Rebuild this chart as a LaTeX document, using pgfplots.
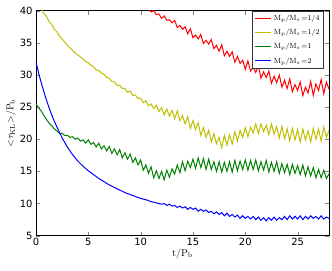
\documentclass[border=0pt]{standalone}
\usepackage{fontspec}
\setsansfont{DejaVu Sans}
\usepackage{pgfplots}
\pgfplotsset{compat=1.18}
\definecolor{mred}{rgb}{1,0,0}
\definecolor{myel}{rgb}{0.75,0.75,0}
\definecolor{mgreen}{rgb}{0,0.5,0}
\definecolor{mblue}{rgb}{0,0,1}
\begin{document}
\begin{tikzpicture}[x=1bp,y=1bp]
\begin{axis}[name=ax,
  scale only axis, width=293bp, height=225bp,
  xmin=0, xmax=28, ymin=5, ymax=40,
  xtick={0,5,10,15,20,25}, ytick={5,10,15,20,25,30,35,40},
  tick align=inside, tick pos=both, major tick length=4bp,
  minor tick num=0,
  /pgf/number format/assume math mode=true,
  tick label style={font=\sffamily\fontsize{10}{11}\selectfont},
  xticklabel style={yshift=1bp},
  xlabel={$\mathrm{t/P_b}$}, ylabel={$\mathrm{{<}\tau_{KL}{>}/P_b}$},
  label style={font=\fontsize{10}{11}\selectfont},
  xlabel style={yshift=4bp}, ylabel style={yshift=-3bp},
  axis line style={line width=0.9pt},
  every axis plot/.append style={line width=1pt},
  legend style={at={(1,1)}, anchor=north east, xshift=-5bp, yshift=0bp,
    font=\fontsize{7.5}{8.5}\selectfont, draw=black!80, inner sep=2.2bp,
    row sep=3.5bp, line width=0.6pt},
  legend cell align=left,
  legend image code/.code={\draw[#1, line width=1.1pt] (0bp,0.3bp) -- (16bp,0.3bp);},
]
\addplot[mred] coordinates {
(10.75,40.3)(11.0,39.8)(11.25,40.0)(11.5,39.4)(11.75,39.5)(12.0,38.8)(12.25,39.2)(12.5,38.5)(12.75,38.6)(13.0,38.1)
(13.25,38.5)(13.5,37.4)(13.75,37.7)(14.0,37.1)(14.25,37.5)(14.5,36.4)(14.75,37.2)(15.0,35.8)(15.25,36.2)(15.5,35.6)
(15.75,36.3)(16.0,34.9)(16.25,35.4)(16.5,34.8)(16.75,35.5)(17.0,34.1)(17.25,34.6)(17.5,33.7)(17.75,34.7)(18.0,33.0)
(18.25,33.7)(18.5,32.9)(18.75,33.6)(19.0,32.0)(19.25,32.9)(19.5,31.8)(19.75,32.3)(20.0,30.9)(20.25,32.2)(20.5,30.6)
(20.75,31.2)(21.0,30.4)(21.25,31.5)(21.5,29.5)(21.75,30.5)(22.0,29.6)(22.25,30.6)(22.5,28.7)(22.75,29.8)(23.0,28.8)
(23.25,30.0)(23.5,28.1)(23.75,29.2)(24.0,27.9)(24.25,29.4)(24.5,27.4)(24.75,28.5)(25.0,27.6)(25.25,28.9)(25.5,26.8)
(25.75,28.1)(26.0,27.2)(26.25,29.0)(26.5,26.8)(26.75,28.6)(27.0,27.6)(27.25,29.3)(27.5,27.1)(27.75,28.9)(28.0,27.8)
};
\addlegendentry{$\mathrm{M_p/M_s\,{=}1/4}$}
\addplot[myel] coordinates {
(0.5,40.4)(0.75,39.6)(1.0,39.1)(1.25,38.3)(1.5,37.9)(1.75,37.1)(2.0,36.7)(2.25,36.0)(2.5,35.6)(2.75,35.1)
(3.0,34.6)(3.25,34.2)(3.5,33.8)(3.75,33.4)(4.0,33.1)(4.25,32.8)(4.5,32.5)(4.75,32.1)(5.0,31.9)(5.25,31.5)
(5.5,31.3)(5.75,30.8)(6.0,30.7)(6.25,30.3)(6.5,30.1)(6.75,29.6)(7.0,29.5)(7.25,29.0)(7.5,28.9)(7.75,28.4)
(8.0,28.4)(8.25,27.9)(8.5,27.9)(8.75,27.3)(9.0,27.5)(9.25,26.8)(9.5,26.9)(9.75,26.3)(10.0,26.4)(10.25,25.7)
(10.5,26.0)(10.75,25.2)(11.0,25.5)(11.25,24.8)(11.5,25.3)(11.75,24.3)(12.0,24.9)(12.25,23.8)(12.5,24.7)(12.75,23.6)
(13.0,24.5)(13.25,23.2)(13.5,24.4)(13.75,22.9)(14.0,23.7)(14.25,22.4)(14.5,23.5)(14.75,21.7)(15.0,22.9)(15.25,21.5)
(15.5,22.6)(15.75,20.6)(16.0,21.8)(16.25,20.3)(16.5,21.4)(16.75,19.6)(17.0,20.9)(17.25,19.3)(17.5,20.3)(17.75,18.7)
(18.0,20.6)(18.25,19.1)(18.5,20.7)(18.75,19.3)(19.0,21.2)(19.25,19.7)(19.5,21.4)(19.75,20.3)(20.0,21.8)(20.25,20.4)
(20.5,21.9)(20.75,21.0)(21.0,22.4)(21.25,20.9)(21.5,22.4)(21.75,21.2)(22.0,22.2)(22.25,20.7)(22.5,22.4)(22.75,20.8)
(23.0,22.0)(23.25,20.2)(23.5,22.0)(23.75,20.1)(24.0,21.6)(24.25,19.8)(24.5,21.7)(24.75,19.9)(25.0,21.5)(25.25,19.6)
(25.5,21.6)(25.75,19.9)(26.0,21.3)(26.25,19.6)(26.5,21.7)(26.75,20.0)(27.0,21.6)(27.25,19.7)(27.5,21.9)(27.75,20.3)
(28.0,21.4)
};
\addlegendentry{$\mathrm{M_p/M_s\,{=}1/2}$}
\addplot[mgreen] coordinates {
(0,25.5)(0.25,24.9)(0.5,24.4)(0.75,23.7)(1.0,23.1)(1.25,22.5)(1.5,22.1)(1.75,21.6)(2.0,21.3)(2.25,20.9)
(2.5,20.9)(2.75,20.6)(3.0,20.6)(3.25,20.3)(3.5,20.4)(3.75,20.0)(4.0,20.2)(4.25,19.7)(4.5,19.9)(4.75,19.4)
(5.0,19.9)(5.25,19.2)(5.5,19.5)(5.75,18.8)(6.0,19.4)(6.25,18.5)(6.5,19.0)(6.75,18.2)(7.0,18.9)(7.25,17.8)
(7.5,18.5)(7.75,17.6)(8.0,18.4)(8.25,17.1)(8.5,17.9)(8.75,16.9)(9.0,17.7)(9.25,16.4)(9.5,17.1)(9.75,16.0)
(10.0,16.8)(10.25,15.2)(10.5,16.0)(10.75,14.7)(11.0,15.7)(11.25,14.0)(11.5,15.1)(11.75,13.9)(12.0,15.0)(12.25,13.7)
(12.5,15.2)(12.75,14.1)(13.0,15.4)(13.25,14.6)(13.5,16.0)(13.75,14.8)(14.0,16.5)(14.25,15.1)(14.5,16.6)(14.75,15.6)
(15.0,16.9)(15.25,15.5)(15.5,17.1)(15.75,15.6)(16.0,17.0)(16.25,15.3)(16.5,16.9)(16.75,15.3)(17.0,16.5)(17.25,15.0)
(17.5,16.5)(17.75,14.9)(18.0,16.4)(18.25,15.0)(18.5,16.5)(18.75,14.9)(19.0,16.7)(19.25,15.1)(19.5,16.6)(19.75,15.3)
(20.0,16.8)(20.25,15.2)(20.5,16.7)(20.75,15.3)(21.0,16.8)(21.25,15.1)(21.5,16.5)(21.75,15.2)(22.0,16.7)(22.25,14.9)
(22.5,16.4)(22.75,15.0)(23.0,16.5)(23.25,14.7)(23.5,16.2)(23.75,14.8)(24.0,16.1)(24.25,14.5)(24.5,16.1)(24.75,14.7)
(25.0,15.9)(25.25,14.5)(25.5,16.0)(25.75,14.3)(26.0,15.7)(26.25,14.3)(26.5,15.6)(26.75,14.0)(27.0,15.3)(27.25,14.0)
(27.5,15.2)(27.75,13.9)(28.0,14.6)
};
\addlegendentry{$\mathrm{M_p/M_s\,{=}1}$}
\addplot[mblue] coordinates {
(0,32.0)(0.25,30.3)(0.5,28.8)(0.75,27.4)(1.0,26.1)(1.25,24.9)(1.5,23.8)(1.75,22.8)(2.0,21.9)(2.5,20.2)
(3.0,18.8)(3.5,17.6)(4.0,16.6)(4.5,15.8)(5.0,15.1)(5.5,14.5)(6.0,13.9)(6.5,13.4)(7.0,12.9)(7.5,12.5)
(8.0,12.1)(8.5,11.7)(9.0,11.4)(9.5,11.1)(10.0,10.8)(10.5,10.6)(11.0,10.3)(11.5,10.1)(12.0,9.9)
(12.25,10.0)(12.5,9.7)(12.75,9.9)(13.0,9.6)(13.25,9.7)(13.5,9.4)(13.75,9.6)(14.0,9.3)(14.25,9.5)(14.5,9.1)
(14.75,9.4)(15.0,9.1)(15.25,9.3)(15.5,8.8)(15.75,9.1)(16.0,8.8)(16.25,9.0)(16.5,8.6)(16.75,8.8)(17.0,8.4)
(17.25,8.7)(17.5,8.3)(17.75,8.6)(18.0,8.1)(18.25,8.5)(18.5,8.0)(18.75,8.3)(19.0,7.9)(19.25,8.2)(19.5,7.7)
(19.75,8.1)(20.0,7.7)(20.25,8.0)(20.5,7.6)(20.75,8.0)(21.0,7.5)(21.25,7.9)(21.5,7.4)(21.75,7.8)(22.0,7.3)
(22.25,7.8)(22.5,7.4)(22.75,7.9)(23.0,7.4)(23.25,7.8)(23.5,7.5)(23.75,8.0)(24.0,7.5)(24.25,8.1)(24.5,7.6)
(24.75,8.0)(25.0,7.6)(25.25,8.1)(25.5,7.5)(25.75,8.0)(26.0,7.6)(26.25,8.1)(26.5,7.7)(26.75,8.0)(27.0,7.6)
(27.25,8.1)(27.5,7.6)(27.75,7.9)(28.0,7.7)
};
\addlegendentry{$\mathrm{M_p/M_s\,{=}2}$}
\end{axis}
\pgfresetboundingbox
\path[use as bounding box] ([xshift=-36bp,yshift=-35bp]ax.south west) rectangle ([xshift=3bp,yshift=10.7bp]ax.north east);
\end{tikzpicture}
\end{document}
